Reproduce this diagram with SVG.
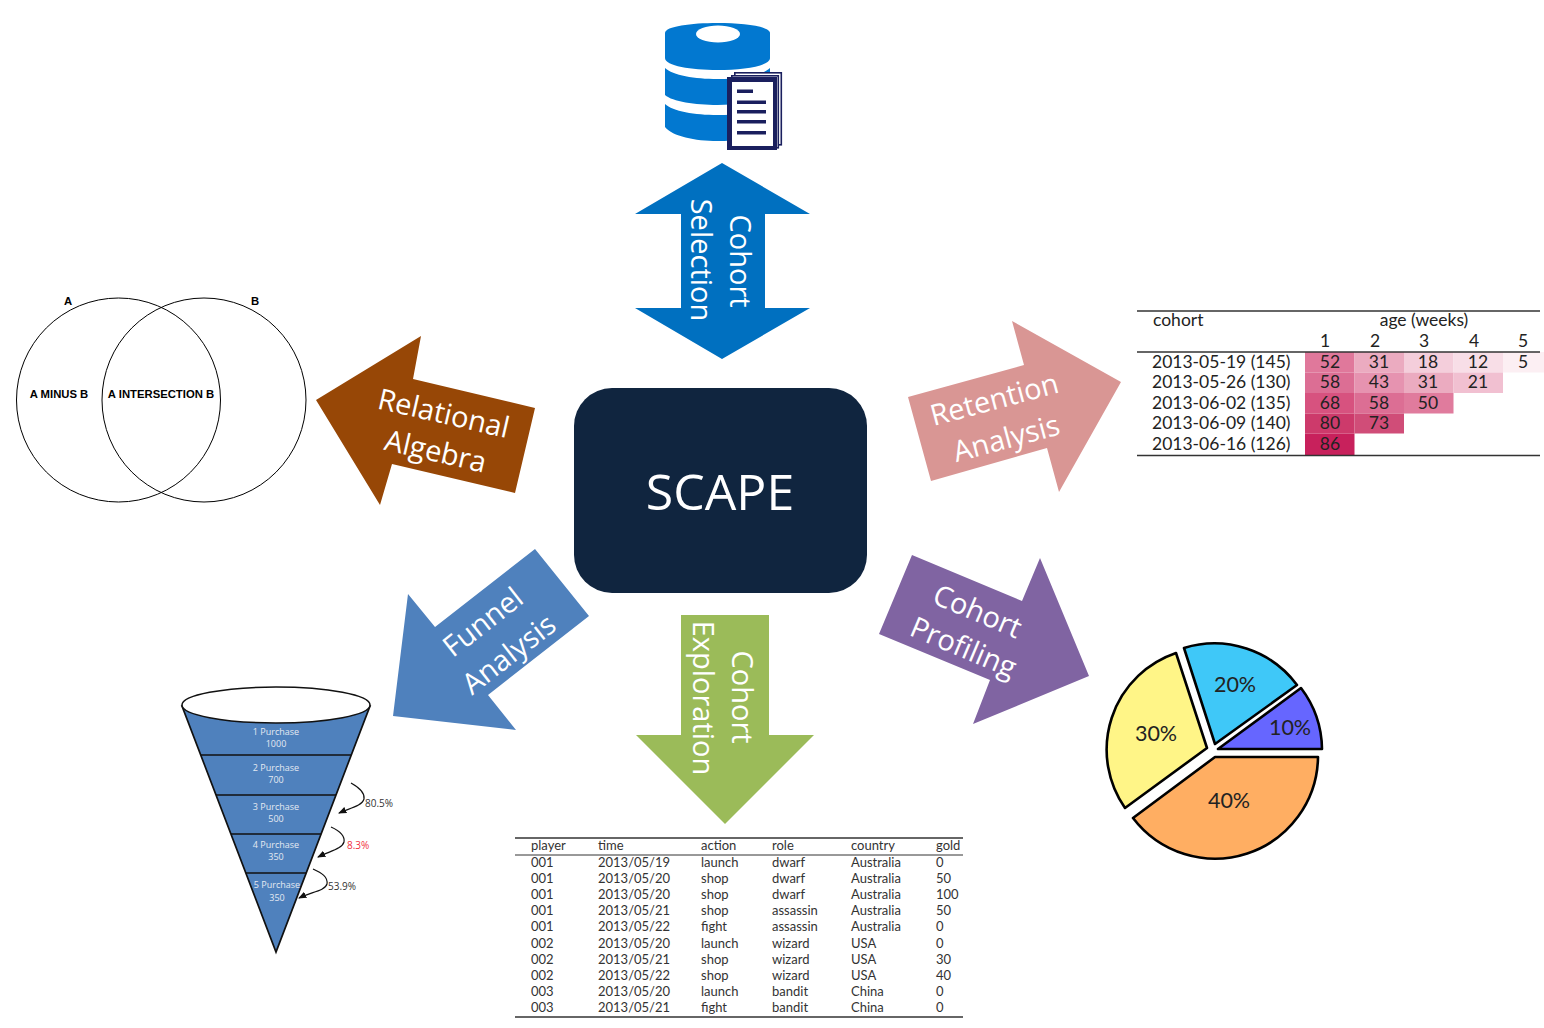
<svg xmlns="http://www.w3.org/2000/svg" width="1544" height="1028" viewBox="0 0 1544 1028">
<defs>
<style>
.lb{font-family:"Open Sans",sans-serif;font-size:29px;fill:#fff;text-anchor:middle;dominant-baseline:central}
.rt{font-family:"Lato","Open Sans",sans-serif;font-size:17.5px;fill:#222}
.rc{text-anchor:middle}
.et{font-family:"Lato","Open Sans",sans-serif;font-size:13px;fill:#333}
.rule{stroke:#333;stroke-width:1.5}
.fn{font-family:"Open Sans",sans-serif;font-size:9px;fill:#e4e9f2;text-anchor:middle}
.pc{font-family:"Open Sans",sans-serif;font-size:10px;fill:#333}
.fline{stroke:#111;stroke-width:1.7}
.farc{fill:none;stroke:#111;stroke-width:1.2;marker-end:url(#ah)}
.pie{stroke:#000;stroke-width:2.6;stroke-linejoin:round}
.pl{font-family:"Lato","Open Sans",sans-serif;font-size:21.5px;fill:#222;text-anchor:middle}
.vn{font-family:"Liberation Sans",sans-serif;font-size:11.3px;font-weight:bold;fill:#000;text-anchor:middle}
.vc{fill:none;stroke:#000;stroke-width:1}
.db{fill:#0278D0}
.doc{fill:#1A1F5E}
</style>
<marker id="ah" viewBox="0 0 8 8" refX="7" refY="4" markerWidth="7" markerHeight="7" orient="auto"><path d="M0,0.8 L8,4 L0,7.2 Z" fill="#111"/></marker>
</defs>
<rect width="1544" height="1028" fill="#fff"/>

<g id="connectors">
<polygon id="arrow-selection" fill="#0070C0" points="722,163 810,214 765,214 765,308 810,308 722,359 635,308 681,308 681,214 635,214"/>
<polygon id="arrow-relational" fill="#974706" points="316,400 421,336 413,379 535,408 515,493 392,464 380,505"/>
<polygon id="arrow-retention" fill="#D99694" points="1121,382 1012,321 1024,365 908,397 931,481 1047,448 1059,492"/>
<polygon id="arrow-funnel" fill="#4F81BD" points="393,716 408,594 435,627 535,549 589,616 488,695 516,730"/>
<polygon id="arrow-exploration" fill="#9BBB59" points="681,615 769,615 769,735 814,735 725,824 636,735 681,735"/>
<polygon id="arrow-profiling" fill="#8064A2" points="912,555 1022,601 1040,558 1089,676 973,724 990,680 879,634"/>
<g>
<text class="lb" transform="translate(741,261) rotate(90)">Cohort</text>
<text class="lb" transform="translate(702,260) rotate(90)">Selection</text>
<text class="lb" transform="translate(444,412) rotate(13)">Relational</text>
<text class="lb" transform="translate(436,450) rotate(13)">Algebra</text>
<text class="lb" transform="translate(994,398) rotate(-15)">Retention</text>
<text class="lb" transform="translate(1006,437) rotate(-15)">Analysis</text>
<text class="lb" transform="translate(482,621) rotate(-38)">Funnel</text>
<text class="lb" transform="translate(508,653) rotate(-38)">Analysis</text>
<text class="lb" transform="translate(743,697) rotate(90)">Cohort</text>
<text class="lb" transform="translate(704,698) rotate(90)">Exploration</text>
<text class="lb" transform="translate(978,610) rotate(23)">Cohort</text>
<text class="lb" transform="translate(964,646) rotate(23)">Profiling</text>
</g>
</g>

<g id="scape">
<rect x="574" y="388" width="293" height="205" rx="38" fill="#10253F"/>
<text x="720" y="510" font-family="'Open Sans',sans-serif" font-size="50" fill="#fff" text-anchor="middle">SCAPE</text>
</g>

<g id="database">
<path class="db" d="M665,33 C665,19.700 770,19.700 770,33 V58 C770,74 665,74 665,58 Z"/>
<ellipse cx="718" cy="34" rx="22" ry="8.500" fill="#fff"/>
<path class="db" d="M665,68 C680,82.700 755,82.700 770,68 V95 C755,108.300 680,108.300 665,95 Z"/>
<path class="db" d="M665,104 C680,118.700 755,118.700 770,104 V127 C755,145.700 680,145.700 665,127 Z"/>
<rect x="734.800" y="72.800" width="46.500" height="72" fill="#fff" stroke="#1A1F5E" stroke-width="1.600"/>
<rect x="731.800" y="75.800" width="46.500" height="72" fill="#fff" stroke="#1A1F5E" stroke-width="1.600"/>
<rect class="doc" x="727" y="77" width="50" height="73"/>
<rect x="732" y="82" width="41" height="64" fill="#fff"/>
<g class="doc">
<rect x="737" y="89.500" width="16" height="3.500"/>
<rect x="737" y="100.500" width="29" height="3.500"/>
<rect x="737" y="110" width="29" height="3.500"/>
<rect x="737" y="120" width="29" height="3.500"/>
<rect x="737" y="131" width="29" height="3.500"/>
</g>
</g>

<g id="venn">
<circle class="vc" cx="118.500" cy="400" r="102"/>
<circle class="vc" cx="204" cy="400" r="102"/>
<text class="vn" x="68" y="305">A</text>
<text class="vn" x="255" y="305">B</text>
<text class="vn" x="59" y="398">A MINUS B</text>
<text class="vn" x="161" y="398">A INTERSECTION B</text>
</g>

<g id="retention-table">
<g>
<rect x="1305" y="352" width="49.500" height="20.500" fill="#E0789B"/>
<rect x="1354.500" y="352" width="49.500" height="20.500" fill="#EBABC0"/>
<rect x="1404" y="352" width="49.500" height="20.500" fill="#F4CEDB"/>
<rect x="1453.500" y="352" width="49.500" height="20.500" fill="#F8DEE7"/>
<rect x="1503" y="352" width="41" height="20.500" fill="#FCEFF3"/>
<rect x="1305" y="372.500" width="49.500" height="20.500" fill="#DC6E94"/>
<rect x="1354.500" y="372.500" width="49.500" height="20.500" fill="#E693B0"/>
<rect x="1404" y="372.500" width="49.500" height="20.500" fill="#EBABC0"/>
<rect x="1453.500" y="372.500" width="49.500" height="20.500" fill="#F1C0D1"/>
<rect x="1305" y="393" width="49.500" height="20.500" fill="#D7527F"/>
<rect x="1354.500" y="393" width="49.500" height="20.500" fill="#DC6E94"/>
<rect x="1404" y="393" width="49.500" height="20.500" fill="#E07B9D"/>
<rect x="1305" y="413.500" width="49.500" height="20" fill="#CD3A6B"/>
<rect x="1354.500" y="413.500" width="49.500" height="20" fill="#D04D78"/>
<rect x="1305" y="433.500" width="49.500" height="21.500" fill="#C8215C"/>
</g>
<line class="rule" x1="1137" y1="311" x2="1540" y2="311"/>
<line class="rule" x1="1137" y1="352" x2="1540" y2="352"/>
<line class="rule" x1="1137" y1="455.500" x2="1540" y2="455.500"/>
<text class="rt" x="1153" y="325.500">cohort</text>
<text class="rt rc" x="1424" y="325.500">age (weeks)</text>
<text class="rt rc" x="1325" y="346.500">1</text><text class="rt rc" x="1375" y="346.500">2</text><text class="rt rc" x="1424" y="346.500">3</text><text class="rt rc" x="1474" y="346.500">4</text><text class="rt rc" x="1523" y="346.500">5</text>
<text class="rt" x="1152" y="368">2013-05-19 (145)</text>
<text class="rt" x="1152" y="388">2013-05-26 (130)</text>
<text class="rt" x="1152" y="409">2013-06-02 (135)</text>
<text class="rt" x="1152" y="429">2013-06-09 (140)</text>
<text class="rt" x="1152" y="449.500">2013-06-16 (126)</text>
<text class="rt rc" x="1330" y="368">52</text><text class="rt rc" x="1379" y="368">31</text><text class="rt rc" x="1428" y="368">18</text><text class="rt rc" x="1478" y="368">12</text><text class="rt rc" x="1523" y="368">5</text>
<text class="rt rc" x="1330" y="388">58</text><text class="rt rc" x="1379" y="388">43</text><text class="rt rc" x="1428" y="388">31</text><text class="rt rc" x="1478" y="388">21</text>
<text class="rt rc" x="1330" y="409">68</text><text class="rt rc" x="1379" y="409">58</text><text class="rt rc" x="1428" y="409">50</text>
<text class="rt rc" x="1330" y="429">80</text><text class="rt rc" x="1379" y="429">73</text>
<text class="rt rc" x="1330" y="449.500">86</text>
</g>

<g id="funnel">
<polygon points="182,706 370,706 276,952" fill="#4F81BD" stroke="#111" stroke-width="1.7"/>
<ellipse cx="276" cy="705" rx="94" ry="18" fill="#fff" stroke="#111" stroke-width="1.5"/>
<line class="fline" x1="201" y1="755" x2="351" y2="755"/>
<line class="fline" x1="216" y1="795" x2="336" y2="795"/>
<line class="fline" x1="231" y1="834" x2="321" y2="834"/>
<line class="fline" x1="246" y1="873" x2="306" y2="873"/>
<text class="fn" x="276" y="735">1 Purchase</text><text class="fn" x="276" y="747">1000</text>
<text class="fn" x="276" y="771">2 Purchase</text><text class="fn" x="276" y="783">700</text>
<text class="fn" x="276" y="810">3 Purchase</text><text class="fn" x="276" y="822">500</text>
<text class="fn" x="276" y="848">4 Purchase</text><text class="fn" x="276" y="860">350</text>
<text class="fn" x="277" y="888">5 Purchase</text><text class="fn" x="277" y="901">350</text>
<path class="farc" d="M351,783 C360,788 365,793 364,799 C362,806 350,808 339,813"/>
<path class="farc" d="M331,827 C340,831 345,836 344,842 C342,849 330,851 318,857"/>
<path class="farc" d="M313,869 C322,873 328,877 327,884 C325,891 311,892 299,898"/>
<text class="pc" x="365" y="807">80.5%</text>
<text class="pc" x="347" y="849" style="fill:#F03040">8.3%</text>
<text class="pc" x="328" y="890">53.9%</text>
</g>

<g id="pie">
<path class="pie" fill="#6666FF" d="M1218,749 H1322 A103,103 0 0 0 1301,688 Z"/>
<path class="pie" fill="#3FC8F8" d="M1215,744 L1297,685 A103,103 0 0 0 1184,648 Z"/>
<path class="pie" fill="#FFF587" d="M1207,748 L1176,653 A102,102 0 0 0 1125,808 Z"/>
<path class="pie" fill="#FFAE62" d="M1215,757 H1318 A103,103 0 0 1 1133,818 Z"/>
<text class="pl" x="1235" y="692">20%</text>
<text class="pl" x="1290" y="735">10%</text>
<text class="pl" x="1156" y="741">30%</text>
<text class="pl" x="1229" y="808">40%</text>
</g>

<g id="event-table">
<line class="rule" x1="515" y1="838" x2="963" y2="838"/>
<line class="rule" x1="515" y1="855" x2="963" y2="855" style="stroke-width:1"/>
<line class="rule" x1="515" y1="1017" x2="963" y2="1017"/>
<text class="et" x="531" y="850">player</text><text class="et" x="598" y="850">time</text><text class="et" x="701" y="850">action</text><text class="et" x="772" y="850">role</text><text class="et" x="851" y="850">country</text><text class="et" x="936" y="850">gold</text>
<text class="et" x="531" y="866.500">001</text><text class="et" x="598" y="866.500">2013/05/19</text><text class="et" x="701" y="866.500">launch</text><text class="et" x="772" y="866.500">dwarf</text><text class="et" x="851" y="866.500">Australia</text><text class="et" x="936" y="866.500">0</text>
<text class="et" x="531" y="883">001</text><text class="et" x="598" y="883">2013/05/20</text><text class="et" x="701" y="883">shop</text><text class="et" x="772" y="883">dwarf</text><text class="et" x="851" y="883">Australia</text><text class="et" x="936" y="883">50</text>
<text class="et" x="531" y="899">001</text><text class="et" x="598" y="899">2013/05/20</text><text class="et" x="701" y="899">shop</text><text class="et" x="772" y="899">dwarf</text><text class="et" x="851" y="899">Australia</text><text class="et" x="936" y="899">100</text>
<text class="et" x="531" y="915">001</text><text class="et" x="598" y="915">2013/05/21</text><text class="et" x="701" y="915">shop</text><text class="et" x="772" y="915">assassin</text><text class="et" x="851" y="915">Australia</text><text class="et" x="936" y="915">50</text>
<text class="et" x="531" y="931">001</text><text class="et" x="598" y="931">2013/05/22</text><text class="et" x="701" y="931">fight</text><text class="et" x="772" y="931">assassin</text><text class="et" x="851" y="931">Australia</text><text class="et" x="936" y="931">0</text>
<text class="et" x="531" y="947.500">002</text><text class="et" x="598" y="947.500">2013/05/20</text><text class="et" x="701" y="947.500">launch</text><text class="et" x="772" y="947.500">wizard</text><text class="et" x="851" y="947.500">USA</text><text class="et" x="936" y="947.500">0</text>
<text class="et" x="531" y="963.500">002</text><text class="et" x="598" y="963.500">2013/05/21</text><text class="et" x="701" y="963.500">shop</text><text class="et" x="772" y="963.500">wizard</text><text class="et" x="851" y="963.500">USA</text><text class="et" x="936" y="963.500">30</text>
<text class="et" x="531" y="979.500">002</text><text class="et" x="598" y="979.500">2013/05/22</text><text class="et" x="701" y="979.500">shop</text><text class="et" x="772" y="979.500">wizard</text><text class="et" x="851" y="979.500">USA</text><text class="et" x="936" y="979.500">40</text>
<text class="et" x="531" y="996">003</text><text class="et" x="598" y="996">2013/05/20</text><text class="et" x="701" y="996">launch</text><text class="et" x="772" y="996">bandit</text><text class="et" x="851" y="996">China</text><text class="et" x="936" y="996">0</text>
<text class="et" x="531" y="1012">003</text><text class="et" x="598" y="1012">2013/05/21</text><text class="et" x="701" y="1012">fight</text><text class="et" x="772" y="1012">bandit</text><text class="et" x="851" y="1012">China</text><text class="et" x="936" y="1012">0</text>
</g>
</svg>
